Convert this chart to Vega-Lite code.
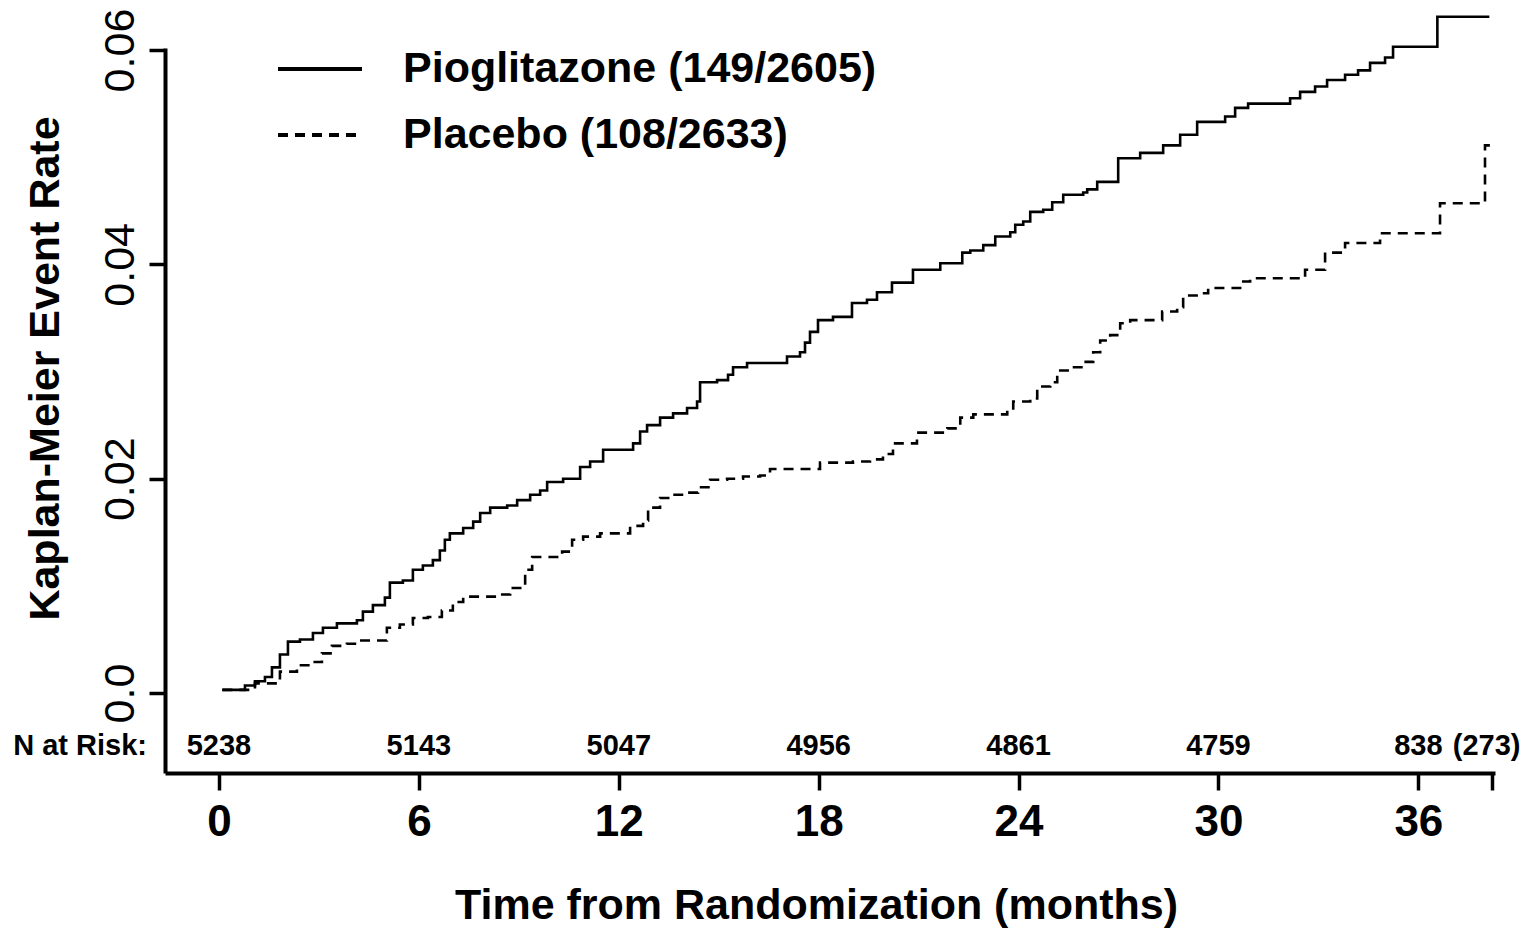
{
  "$schema": "https://vega.github.io/schema/vega-lite/v6.json",
  "autosize": "none",
  "padding": {"left": 165, "top": 48, "right": 37, "bottom": 155},
  "width": 1330,
  "height": 725,
  "background": "white",
  "config": {
    "view": {"stroke": null},
    "font": "Liberation Sans",
    "axis": {"labelColor": "black", "titleColor": "black", "domainColor": "black", "tickColor": "black", "grid": false}
  },
  "datasets": {
    "curves": [
      {"arm":"Pioglitazone (149/2605)","month":0.1,"rate":0.0003},{"arm":"Pioglitazone (149/2605)","month":0.78,"rate":0.0007},{"arm":"Pioglitazone (149/2605)","month":1.08,"rate":0.0011},{"arm":"Pioglitazone (149/2605)","month":1.38,"rate":0.0015},{"arm":"Pioglitazone (149/2605)","month":1.59,"rate":0.0024},{"arm":"Pioglitazone (149/2605)","month":1.83,"rate":0.0036},{"arm":"Pioglitazone (149/2605)","month":2.07,"rate":0.0048},{"arm":"Pioglitazone (149/2605)","month":2.43,"rate":0.005},{"arm":"Pioglitazone (149/2605)","month":2.82,"rate":0.0056},{"arm":"Pioglitazone (149/2605)","month":3.12,"rate":0.0061},{"arm":"Pioglitazone (149/2605)","month":3.54,"rate":0.0065},{"arm":"Pioglitazone (149/2605)","month":4.14,"rate":0.0068},{"arm":"Pioglitazone (149/2605)","month":4.32,"rate":0.0076},{"arm":"Pioglitazone (149/2605)","month":4.62,"rate":0.0082},{"arm":"Pioglitazone (149/2605)","month":4.98,"rate":0.0089},{"arm":"Pioglitazone (149/2605)","month":5.13,"rate":0.0103},{"arm":"Pioglitazone (149/2605)","month":5.52,"rate":0.0105},{"arm":"Pioglitazone (149/2605)","month":5.82,"rate":0.0115},{"arm":"Pioglitazone (149/2605)","month":6.12,"rate":0.0119},{"arm":"Pioglitazone (149/2605)","month":6.42,"rate":0.0124},{"arm":"Pioglitazone (149/2605)","month":6.63,"rate":0.0133},{"arm":"Pioglitazone (149/2605)","month":6.78,"rate":0.0143},{"arm":"Pioglitazone (149/2605)","month":6.93,"rate":0.0149},{"arm":"Pioglitazone (149/2605)","month":7.33,"rate":0.0154},{"arm":"Pioglitazone (149/2605)","month":7.63,"rate":0.016},{"arm":"Pioglitazone (149/2605)","month":7.84,"rate":0.0168},{"arm":"Pioglitazone (149/2605)","month":8.14,"rate":0.0173},{"arm":"Pioglitazone (149/2605)","month":8.65,"rate":0.0175},{"arm":"Pioglitazone (149/2605)","month":8.95,"rate":0.018},{"arm":"Pioglitazone (149/2605)","month":9.34,"rate":0.0185},{"arm":"Pioglitazone (149/2605)","month":9.64,"rate":0.0189},{"arm":"Pioglitazone (149/2605)","month":9.85,"rate":0.0197},{"arm":"Pioglitazone (149/2605)","month":10.33,"rate":0.02},{"arm":"Pioglitazone (149/2605)","month":10.84,"rate":0.0211},{"arm":"Pioglitazone (149/2605)","month":11.14,"rate":0.0216},{"arm":"Pioglitazone (149/2605)","month":11.53,"rate":0.0227},{"arm":"Pioglitazone (149/2605)","month":12.43,"rate":0.0233},{"arm":"Pioglitazone (149/2605)","month":12.64,"rate":0.0244},{"arm":"Pioglitazone (149/2605)","month":12.85,"rate":0.025},{"arm":"Pioglitazone (149/2605)","month":13.24,"rate":0.0257},{"arm":"Pioglitazone (149/2605)","month":13.63,"rate":0.0261},{"arm":"Pioglitazone (149/2605)","month":14.05,"rate":0.0266},{"arm":"Pioglitazone (149/2605)","month":14.35,"rate":0.0272},{"arm":"Pioglitazone (149/2605)","month":14.44,"rate":0.029},{"arm":"Pioglitazone (149/2605)","month":14.95,"rate":0.0292},{"arm":"Pioglitazone (149/2605)","month":15.28,"rate":0.0297},{"arm":"Pioglitazone (149/2605)","month":15.43,"rate":0.0304},{"arm":"Pioglitazone (149/2605)","month":15.85,"rate":0.0308},{"arm":"Pioglitazone (149/2605)","month":17.05,"rate":0.0314},{"arm":"Pioglitazone (149/2605)","month":17.44,"rate":0.0318},{"arm":"Pioglitazone (149/2605)","month":17.59,"rate":0.0327},{"arm":"Pioglitazone (149/2605)","month":17.74,"rate":0.0337},{"arm":"Pioglitazone (149/2605)","month":17.98,"rate":0.0348},{"arm":"Pioglitazone (149/2605)","month":18.43,"rate":0.0351},{"arm":"Pioglitazone (149/2605)","month":19.0,"rate":0.0364},{"arm":"Pioglitazone (149/2605)","month":19.45,"rate":0.0367},{"arm":"Pioglitazone (149/2605)","month":19.75,"rate":0.0374},{"arm":"Pioglitazone (149/2605)","month":20.2,"rate":0.0383},{"arm":"Pioglitazone (149/2605)","month":20.83,"rate":0.0395},{"arm":"Pioglitazone (149/2605)","month":21.65,"rate":0.0401},{"arm":"Pioglitazone (149/2605)","month":22.31,"rate":0.0411},{"arm":"Pioglitazone (149/2605)","month":22.55,"rate":0.0413},{"arm":"Pioglitazone (149/2605)","month":22.94,"rate":0.0418},{"arm":"Pioglitazone (149/2605)","month":23.3,"rate":0.0426},{"arm":"Pioglitazone (149/2605)","month":23.75,"rate":0.043},{"arm":"Pioglitazone (149/2605)","month":23.9,"rate":0.0437},{"arm":"Pioglitazone (149/2605)","month":24.14,"rate":0.044},{"arm":"Pioglitazone (149/2605)","month":24.35,"rate":0.0449},{"arm":"Pioglitazone (149/2605)","month":24.74,"rate":0.0451},{"arm":"Pioglitazone (149/2605)","month":25.01,"rate":0.0458},{"arm":"Pioglitazone (149/2605)","month":25.34,"rate":0.0465},{"arm":"Pioglitazone (149/2605)","month":25.94,"rate":0.0467},{"arm":"Pioglitazone (149/2605)","month":26.06,"rate":0.047},{"arm":"Pioglitazone (149/2605)","month":26.36,"rate":0.0477},{"arm":"Pioglitazone (149/2605)","month":26.99,"rate":0.0499},{"arm":"Pioglitazone (149/2605)","month":27.65,"rate":0.0504},{"arm":"Pioglitazone (149/2605)","month":28.34,"rate":0.0511},{"arm":"Pioglitazone (149/2605)","month":28.85,"rate":0.0521},{"arm":"Pioglitazone (149/2605)","month":29.36,"rate":0.0533},{"arm":"Pioglitazone (149/2605)","month":30.2,"rate":0.0538},{"arm":"Pioglitazone (149/2605)","month":30.5,"rate":0.0546},{"arm":"Pioglitazone (149/2605)","month":30.89,"rate":0.055},{"arm":"Pioglitazone (149/2605)","month":32.15,"rate":0.0555},{"arm":"Pioglitazone (149/2605)","month":32.45,"rate":0.0561},{"arm":"Pioglitazone (149/2605)","month":32.9,"rate":0.0566},{"arm":"Pioglitazone (149/2605)","month":33.26,"rate":0.0572},{"arm":"Pioglitazone (149/2605)","month":33.8,"rate":0.0577},{"arm":"Pioglitazone (149/2605)","month":34.19,"rate":0.0581},{"arm":"Pioglitazone (149/2605)","month":34.55,"rate":0.0588},{"arm":"Pioglitazone (149/2605)","month":35.0,"rate":0.0593},{"arm":"Pioglitazone (149/2605)","month":35.24,"rate":0.0603},{"arm":"Pioglitazone (149/2605)","month":36.57,"rate":0.0631},{"arm":"Pioglitazone (149/2605)","month":38.13,"rate":0.0631},
      {"arm":"Placebo (108/2633)","month":0.1,"rate":0.0003},{"arm":"Placebo (108/2633)","month":1.08,"rate":0.0009},{"arm":"Placebo (108/2633)","month":1.83,"rate":0.002},{"arm":"Placebo (108/2633)","month":2.34,"rate":0.0026},{"arm":"Placebo (108/2633)","month":2.73,"rate":0.0029},{"arm":"Placebo (108/2633)","month":3.09,"rate":0.0037},{"arm":"Placebo (108/2633)","month":3.39,"rate":0.0044},{"arm":"Placebo (108/2633)","month":3.84,"rate":0.0046},{"arm":"Placebo (108/2633)","month":4.23,"rate":0.0049},{"arm":"Placebo (108/2633)","month":5.04,"rate":0.0061},{"arm":"Placebo (108/2633)","month":5.43,"rate":0.0064},{"arm":"Placebo (108/2633)","month":5.82,"rate":0.007},{"arm":"Placebo (108/2633)","month":6.27,"rate":0.0071},{"arm":"Placebo (108/2633)","month":6.69,"rate":0.0077},{"arm":"Placebo (108/2633)","month":7.02,"rate":0.0085},{"arm":"Placebo (108/2633)","month":7.33,"rate":0.009},{"arm":"Placebo (108/2633)","month":8.35,"rate":0.0092},{"arm":"Placebo (108/2633)","month":8.74,"rate":0.0098},{"arm":"Placebo (108/2633)","month":9.19,"rate":0.0115},{"arm":"Placebo (108/2633)","month":9.4,"rate":0.0127},{"arm":"Placebo (108/2633)","month":10.3,"rate":0.0132},{"arm":"Placebo (108/2633)","month":10.6,"rate":0.0143},{"arm":"Placebo (108/2633)","month":10.93,"rate":0.0146},{"arm":"Placebo (108/2633)","month":11.44,"rate":0.0149},{"arm":"Placebo (108/2633)","month":12.34,"rate":0.0156},{"arm":"Placebo (108/2633)","month":12.73,"rate":0.0161},{"arm":"Placebo (108/2633)","month":12.88,"rate":0.0173},{"arm":"Placebo (108/2633)","month":13.24,"rate":0.0182},{"arm":"Placebo (108/2633)","month":13.63,"rate":0.0185},{"arm":"Placebo (108/2633)","month":14.05,"rate":0.0187},{"arm":"Placebo (108/2633)","month":14.38,"rate":0.0192},{"arm":"Placebo (108/2633)","month":14.74,"rate":0.0199},{"arm":"Placebo (108/2633)","month":15.25,"rate":0.02},{"arm":"Placebo (108/2633)","month":15.73,"rate":0.0202},{"arm":"Placebo (108/2633)","month":16.24,"rate":0.0203},{"arm":"Placebo (108/2633)","month":16.54,"rate":0.0209},{"arm":"Placebo (108/2633)","month":18.04,"rate":0.0215},{"arm":"Placebo (108/2633)","month":19.03,"rate":0.0216},{"arm":"Placebo (108/2633)","month":19.54,"rate":0.0218},{"arm":"Placebo (108/2633)","month":19.93,"rate":0.0223},{"arm":"Placebo (108/2633)","month":20.23,"rate":0.0233},{"arm":"Placebo (108/2633)","month":20.95,"rate":0.0243},{"arm":"Placebo (108/2633)","month":21.86,"rate":0.0247},{"arm":"Placebo (108/2633)","month":22.25,"rate":0.0257},{"arm":"Placebo (108/2633)","month":22.64,"rate":0.026},{"arm":"Placebo (108/2633)","month":23.66,"rate":0.0264},{"arm":"Placebo (108/2633)","month":23.84,"rate":0.0272},{"arm":"Placebo (108/2633)","month":24.35,"rate":0.0275},{"arm":"Placebo (108/2633)","month":24.56,"rate":0.0286},{"arm":"Placebo (108/2633)","month":24.95,"rate":0.029},{"arm":"Placebo (108/2633)","month":25.16,"rate":0.0301},{"arm":"Placebo (108/2633)","month":25.55,"rate":0.0304},{"arm":"Placebo (108/2633)","month":25.94,"rate":0.0309},{"arm":"Placebo (108/2633)","month":26.24,"rate":0.0318},{"arm":"Placebo (108/2633)","month":26.45,"rate":0.0329},{"arm":"Placebo (108/2633)","month":26.75,"rate":0.0334},{"arm":"Placebo (108/2633)","month":27.05,"rate":0.0345},{"arm":"Placebo (108/2633)","month":27.35,"rate":0.0348},{"arm":"Placebo (108/2633)","month":28.31,"rate":0.0356},{"arm":"Placebo (108/2633)","month":28.76,"rate":0.036},{"arm":"Placebo (108/2633)","month":28.94,"rate":0.0371},{"arm":"Placebo (108/2633)","month":29.39,"rate":0.0373},{"arm":"Placebo (108/2633)","month":29.69,"rate":0.0378},{"arm":"Placebo (108/2633)","month":30.65,"rate":0.0384},{"arm":"Placebo (108/2633)","month":30.95,"rate":0.0387},{"arm":"Placebo (108/2633)","month":32.6,"rate":0.0395},{"arm":"Placebo (108/2633)","month":33.2,"rate":0.0411},{"arm":"Placebo (108/2633)","month":33.8,"rate":0.042},{"arm":"Placebo (108/2633)","month":34.85,"rate":0.0429},{"arm":"Placebo (108/2633)","month":36.65,"rate":0.0457},{"arm":"Placebo (108/2633)","month":38.0,"rate":0.0511},{"arm":"Placebo (108/2633)","month":38.25,"rate":0.0511}
    ],
    "risk": [
      {"month": 0, "n": "5238"},
      {"month": 6, "n": "5143"},
      {"month": 12, "n": "5047"},
      {"month": 18, "n": "4956"},
      {"month": 24, "n": "4861"},
      {"month": 30, "n": "4759"},
      {"month": 36, "n": "838"},
      {"month": 38.05, "n": "(273)"}
    ]
  },
  "layer": [
    {
      "data": {"name": "curves"},
      "mark": {"type": "line", "interpolate": "step-after", "color": "black", "strokeWidth": 2.6, "clip": false},
      "encoding": {
        "x": {
          "field": "month", "type": "quantitative",
          "scale": {"domain": [-1.62, 38.3], "nice": false, "zero": false},
          "axis": {
            "values": [0, 6, 12, 18, 24, 30, 36, 38.2],
            "labelExpr": "datum.value > 37 ? '' : datum.label",
            "domainWidth": 4, "tickWidth": 3.5, "tickSize": 17,
            "labelFontSize": 44, "labelFontWeight": "bold", "labelPadding": 10,
            "title": "Time from Randomization (months)",
            "titleFontSize": 43, "titleFontWeight": "bold",
            "titleX": 651, "titleY": 145, "titleBaseline": "alphabetic", "titleAlign": "center"
          }
        },
        "y": {
          "field": "rate", "type": "quantitative",
          "scale": {"domain": [-0.00746, 0.06019], "nice": false, "zero": false},
          "axis": {
            "values": [0, 0.02, 0.04, 0.06],
            "labelExpr": "datum.value == 0 ? '0.0' : format(datum.value, '.2f')",
            "domainWidth": 4, "tickWidth": 3.5, "tickSize": 16,
            "labelFontSize": 43, "labelFontWeight": "normal", "labelPadding": 7,
            "labelAngle": 270, "labelAlign": "center", "labelBaseline": "bottom",
            "title": "Kaplan-Meier Event Rate",
            "titleFontSize": 43, "titleFontWeight": "bold",
            "titleAngle": 270, "titleX": -120, "titleY": 320,
            "titleAlign": "center", "titleBaseline": "middle"
          }
        },
        "strokeDash": {
          "field": "arm", "type": "nominal",
          "scale": {"domain": ["Pioglitazone (149/2605)", "Placebo (108/2633)"], "range": [[1, 0], [10, 7]]},
          "legend": {
            "title": null, "orient": "none", "legendX": 111, "legendY": -23,
            "symbolType": "stroke", "symbolSize": 7056, "symbolStrokeWidth": 4,
            "symbolStrokeColor": "black",
            "labelFontSize": 43, "labelFontWeight": "bold", "labelColor": "black",
            "labelOffset": 39, "labelLimit": 0, "rowPadding": -2
          }
        }
      }
    },
    {
      "data": {"name": "risk"},
      "mark": {"type": "text", "fontSize": 29, "fontWeight": "bold", "color": "black", "align": "center", "baseline": "alphabetic"},
      "encoding": {
        "x": {"field": "month", "type": "quantitative"},
        "y": {"datum": -0.00579},
        "text": {"field": "n"}
      }
    },
    {
      "data": {"values": [{"label": "N at Risk:"}]},
      "mark": {"type": "text", "fontSize": 29, "fontWeight": "bold", "color": "black", "align": "right", "baseline": "alphabetic", "clip": false},
      "encoding": {
        "x": {"datum": -2.16},
        "y": {"datum": -0.00579},
        "text": {"field": "label"}
      }
    }
  ]
}
